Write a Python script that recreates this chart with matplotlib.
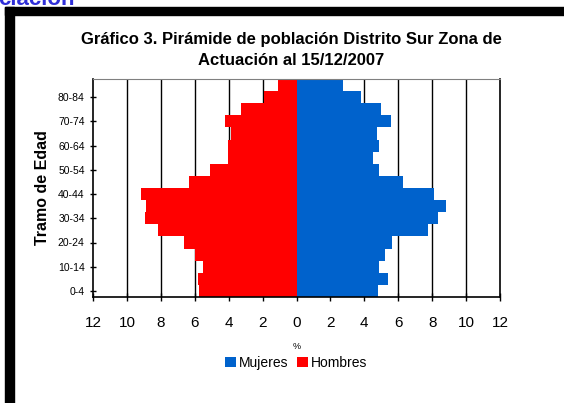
import numpy as np
import matplotlib.pyplot as plt
from matplotlib.patches import Rectangle

plt.rcParams['font.family'] = ['Liberation Sans', 'DejaVu Sans']

# tramos de edad (de abajo arriba)
tramos = ['0-4', '5-9', '10-14', '15-19', '20-24', '25-29', '30-34', '35-39',
          '40-44', '45-49', '50-54', '55-59', '60-64', '65-69', '70-74',
          '75-79', '80-84', '85+']
hombres = [5.72, 5.82, 5.52, 5.96, 6.61, 8.15, 8.92, 8.88, 9.17, 6.31,
           5.13, 4.04, 4.04, 3.89, 4.24, 3.25, 1.91, 1.08]
mujeres = [4.83, 5.40, 4.87, 5.22, 5.65, 7.76, 8.34, 8.79, 8.13, 6.30,
           4.87, 4.54, 4.87, 4.74, 5.56, 5.01, 3.80, 2.73]
xticks = [-12, -10, -8, -6, -4, -2, 0, 2, 4, 6, 8, 10, 12]

W, H = 564, 403
fig = plt.figure(figsize=(W / 100, H / 100), dpi=100)
fig.patch.set_facecolor('white')

# marco negro superior e izquierdo
fig.patches.append(Rectangle((5 / W, 0), 9 / W, 1 - 7 / H, transform=fig.transFigure,
                             color='black', zorder=0))
fig.patches.append(Rectangle((5 / W, 1 - 15 / H), 1 - 5 / W, 8 / H, transform=fig.transFigure,
                             color='black', zorder=0))
fig.text(-2 / W, 1 - 5 / H, 'ciación', color='#2f2fd8', fontsize=16,
         fontweight='bold', va='baseline', ha='left')

ax = fig.add_axes([93 / W, 1 - 297 / H, 407 / W, 218 / H])
y = np.arange(len(tramos))
ax.barh(y, [-v for v in hombres], height=1.0, color='#ff0000', label='Hombres', zorder=2)
ax.barh(y, mujeres, height=1.0, color='#0062cc', label='Mujeres', zorder=2)

for g in xticks[1:-1]:
    ax.axvline(g, color='black', lw=1, zorder=1)

ax.set_xlim(-12, 12)
ax.set_ylim(-0.5, len(tramos) - 0.5)
ax.set_xticks(xticks)
ax.set_xticklabels([str(abs(t)) for t in xticks], fontsize=11)
ax.set_yticks(y[::2])
ax.set_yticklabels(tramos[::2], fontsize=7.5)
ax.tick_params(axis='x', direction='inout', length=6, width=1, pad=11)
ax.tick_params(axis='y', direction='inout', length=4, width=1, pad=4)
for s in ['left', 'bottom', 'right']:
    ax.spines[s].set_color('black')
    ax.spines[s].set_linewidth(1.2)
ax.spines['top'].set_color('#808080')

ax.set_xlabel('%', fontsize=6.5, labelpad=8)
ax.set_ylabel('Tramo de Edad', fontsize=11.5, fontweight='bold', labelpad=6)

handles, labels = ax.get_legend_handles_labels()
leg = fig.legend(handles[::-1], labels[::-1], loc='center', bbox_to_anchor=(296 / W, 1 - 363 / H),
                 ncol=2, frameon=False, fontsize=10, handlelength=0.8, handleheight=0.8,
                 handletextpad=0.2, columnspacing=0.6)

fig.text(291 / W, 1 - 50 / H, 'Gráfico 3. Pirámide de población Distrito Sur Zona de\nActuación al 15/12/2007',
         ha='center', va='center', fontsize=12, fontweight='bold', linespacing=1.45)

fig.savefig('out.png', dpi=100)
